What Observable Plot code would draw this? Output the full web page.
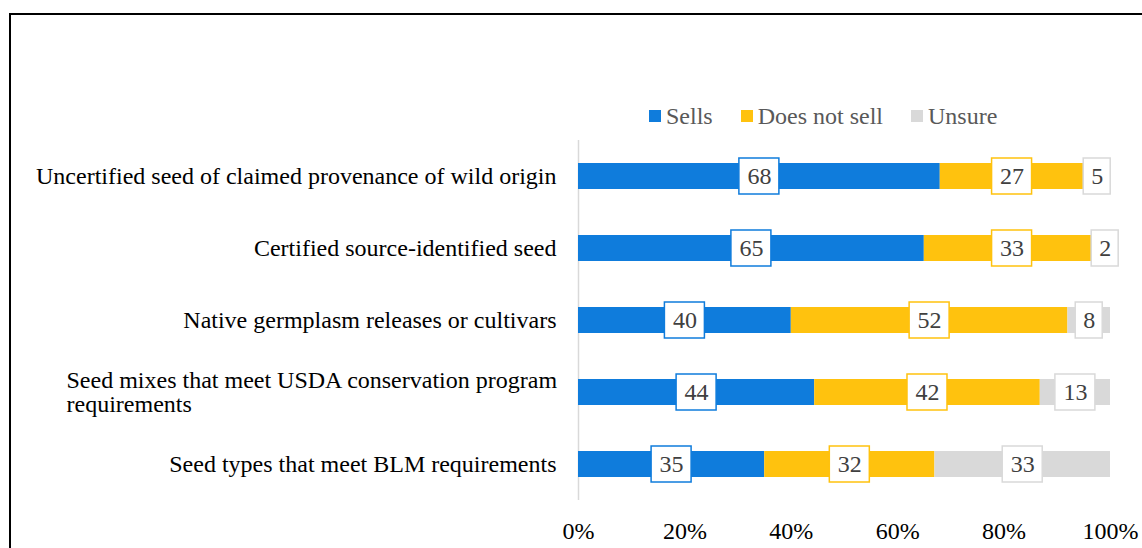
<!DOCTYPE html>
<html>
<head>
<meta charset="utf-8">
<script src="https://cdn.jsdelivr.net/npm/d3@7"></script>
<script src="https://cdn.jsdelivr.net/npm/@observablehq/plot@0.6"></script>
<style>
  html, body { margin: 0; padding: 0; background: #fff; }
  #wrap { position: relative; width: 1142px; height: 548px; overflow: hidden; font-family: "Liberation Serif", "Times New Roman", serif; }
  #frame { position: absolute; left: 9px; top: 13px; right: -10px; bottom: -10px; border-top: 2px solid #000; border-left: 2px solid #000; }
  #legend { position: absolute; left: 649px; top: 102px; display: flex; align-items: center; font-size: 24px; color: #595959; line-height: 28px; }
  #legend .item { display: flex; align-items: center; margin-right: 28px; }
  #legend .sw { width: 12px; height: 12px; margin-right: 5px; }
  #chart { position: absolute; left: 0; top: 0; }
</style>
</head>
<body>
<div id="wrap">
  <div id="frame"></div>
  <div id="chart"></div>
  <div id="legend"></div>
</div>
<script>
const categories = [
  "Uncertified seed of claimed provenance of wild origin",
  "Certified source-identified seed",
  "Native germplasm releases or cultivars",
  "Seed mixes that meet USDA conservation program\nrequirements",
  "Seed types that meet BLM requirements"
];
const series = ["Sells", "Does not sell", "Unsure"];
const colors = ["#0f7cdc", "#ffc20e", "#d9d9d9"];
const sells = [68, 65, 40, 44.4, 35];
const doesNotSell = [27, 33, 52, 42.4, 32];
const unsure = [5, 2, 8, 13.2, 33];
const xTicks = [0, 20, 40, 60, 80, 100];

const values = [sells, doesNotSell, unsure];
const table = [];
categories.forEach((c, i) => {
  let acc = 0;
  series.forEach((s, j) => {
    const v = values[j][i];
    table.push({category: c, series: s, value: v, label: String(Math.round(v)), x1: acc, x2: acc + v, mid: acc + v / 2});
    acc += v;
  });
});

const wrapped = categories[3];
const font = "'Liberation Serif', 'Times New Roman', serif";

const chart = Plot.plot({
  width: 1142,
  height: 548,
  marginLeft: 578,
  marginRight: 32,
  marginTop: 140,
  marginBottom: 48,
  style: {fontFamily: font, background: "transparent"},
  x: {domain: [0, 100]},
  y: {domain: categories, paddingInner: 0.64, paddingOuter: 0.32},
  color: {domain: series, range: colors},
  marks: [
    Plot.ruleX([0], {stroke: "#d9d9d9", strokeWidth: 1.5}),
    Plot.barX(table, {y: "category", x1: "x1", x2: "x2", fill: "series"}),
    Plot.barX(table.filter(d => d.label.length > 1), {
      y: "category", x1: "mid", x2: "mid", fill: "white", stroke: "series", strokeWidth: 1.5,
      insetLeft: -20, insetRight: -20, insetTop: -5, insetBottom: -5
    }),
    Plot.barX(table.filter(d => d.label.length === 1), {
      y: "category", x1: "mid", x2: "mid", fill: "white", stroke: "series", strokeWidth: 1.5,
      insetLeft: -13.5, insetRight: -13.5, insetTop: -5, insetBottom: -5
    }),
    Plot.text(table, {x: "mid", y: "category", text: "label", fontSize: 24, fill: "#404040"}),
    Plot.axisX({ticks: xTicks, tickFormat: d => d + "%", tickSize: 0, tickPadding: 21, fontSize: 24, fill: "#000", label: null}),
    Plot.axisY({tickSize: 0, tickPadding: 22, fontSize: 24, fill: "#000", label: null,
      tickFormat: d => d === wrapped ? "" : d}),
    Plot.text([wrapped], {x: 0, y: d => d, text: d => d, textAnchor: "start", dx: -512, fontSize: 24, fill: "#000", lineHeight: 1})
  ]
});
document.getElementById("chart").appendChild(chart);

const legend = document.getElementById("legend");
series.forEach((s, j) => {
  const item = document.createElement("div");
  item.className = "item";
  const sw = document.createElement("div");
  sw.className = "sw";
  sw.style.background = colors[j];
  const t = document.createElement("span");
  t.textContent = s;
  item.appendChild(sw);
  item.appendChild(t);
  legend.appendChild(item);
});
</script>
</body>
</html>
